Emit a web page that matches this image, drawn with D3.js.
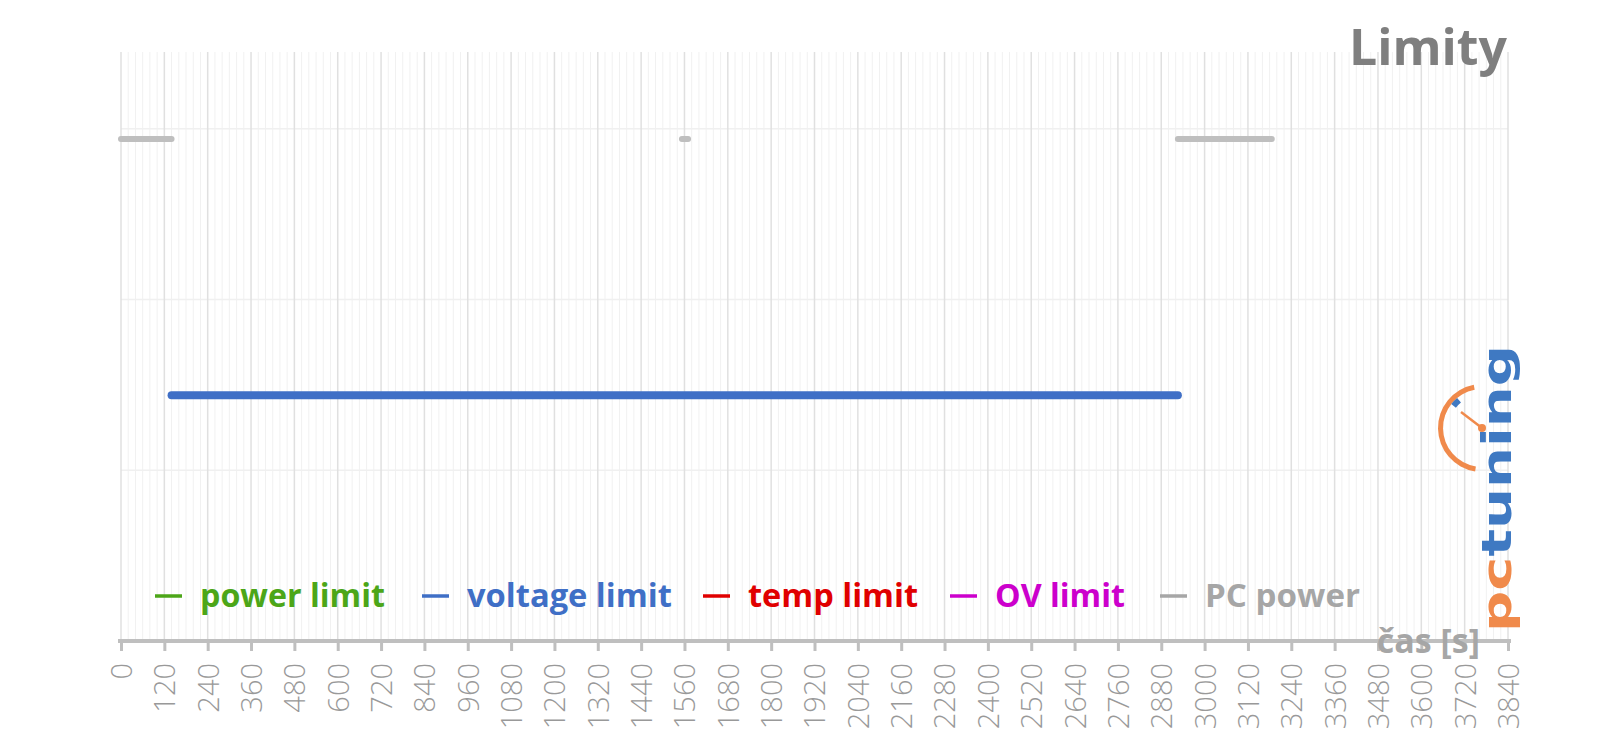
<!DOCTYPE html>
<html>
<head>
<meta charset="utf-8">
<script src="https://cdn.jsdelivr.net/npm/d3@7/dist/d3.min.js"></script>
<style>
html,body{margin:0;padding:0;background:#fff;}
svg{display:block;}
</style>
</head>
<body>
<svg id="chart" width="1600" height="738"></svg>
<script>
// ---- data ----
const title = "Limity";
const xAxisTitle = "čas [s]";
const xTicks = [0,120,240,360,480,600,720,840,960,1080,1200,1320,1440,1560,1680,1800,1920,2040,2160,2280,2400,2520,2640,2760,2880,3000,3120,3240,3360,3480,3600,3720,3840];
const seriesNames = ["power limit","voltage limit","temp limit","OV limit","PC power"];
const seriesColors = ["#4ca618","#3f6fc6","#e00000","#cc00cc","#a6a6a6"];
// [time s, level]; null = gap
const powerLimit = [];
const voltageLimit = [[140,1.44],[2926,1.44]];
const tempLimit = [];
const ovLimit = [];
const pcPower = [[0,2.94],[140,2.94],null,[1553,2.94],[1570,2.94],null,[2926,2.94],[3186,2.94]];
const yGrid = [1,2,3];

// ---- layout ----
const svg = d3.select("#chart");
const x = d3.scaleLinear().domain([0,3840]).range([121,1508]);
const y = d3.scaleLinear().domain([0,3.45]).range([641,52]);

// minor vertical grid every 20 s
const minor = d3.range(0,3841,20).filter(t => t % 120 !== 0);
svg.append("g").selectAll("line").data(minor).join("line")
  .attr("x1", d=>x(d)).attr("x2", d=>x(d))
  .attr("y1", y(3.45)).attr("y2", y(0))
  .attr("stroke","#f1f1f1").attr("stroke-width",1);
svg.append("g").selectAll("line").data(yGrid).join("line")
  .attr("x1", x(0)).attr("x2", x(3840))
  .attr("y1", d=>y(d)).attr("y2", d=>y(d))
  .attr("stroke","#f0f0f0").attr("stroke-width",1.5);
svg.append("g").selectAll("line").data(xTicks).join("line")
  .attr("x1", d=>x(d)).attr("x2", d=>x(d))
  .attr("y1", y(3.45)).attr("y2", y(0))
  .attr("stroke","#e0e0e0").attr("stroke-width",1.5);

// ---- axis ----
const axis = d3.axisBottom(x).tickValues(xTicks).tickSize(10).tickSizeOuter(0).tickFormat(d3.format("d"));
const ag = svg.append("g").attr("transform",`translate(0,${y(0)})`).call(axis);
ag.select(".domain").attr("stroke","#bfbfbf").attr("stroke-width",4).attr("d",`M${x(0)-3},0H${x(3840)+3}`);
ag.selectAll(".tick line").attr("stroke","#bfbfbf").attr("stroke-width",3);
ag.selectAll(".tick text")
  .attr("transform","rotate(-90)")
  .attr("x",-22).attr("y",0).attr("dy","0.36em")
  .attr("text-anchor","end")
  .attr("fill","#999999")
  .style("font-family","'Open Sans', sans-serif")
  .style("font-weight","300")
  .style("font-size","29px");

svg.append("text").attr("x",1480).attr("y",653)
  .attr("text-anchor","end")
  .attr("fill","#a6a6a6")
  .style("font-family","'Open Sans', sans-serif")
  .style("font-weight","700").style("font-size","34px")
  .text(xAxisTitle);

// ---- series ----
const line = d3.line().defined(d=>d!==null).x(d=>x(d[0])).y(d=>y(d[1]));
const seriesData = [powerLimit, voltageLimit, tempLimit, ovLimit, pcPower];
const widths = [8,8,8,8,6];
seriesData.forEach((s,i)=>{
  if(!s.length) return;
  svg.append("path").datum(s).attr("d",line)
    .attr("fill","none").attr("stroke", i===4 ? "#bfbfbf" : seriesColors[i])
    .attr("stroke-width",widths[i]).attr("stroke-linecap","round");
});

// ---- legend ----
const legX = [155,422,703,950,1160];
const legW = [185,205,170,130,155];
const lg = svg.append("g");
seriesNames.forEach((n,i)=>{
  lg.append("line").attr("x1",legX[i]).attr("x2",legX[i]+27)
    .attr("y1",596).attr("y2",596).attr("stroke",seriesColors[i]).attr("stroke-width",3.5);
  lg.append("text").attr("x",legX[i]+45).attr("y",607)
    .attr("fill",seriesColors[i])
    .style("font-family","'Open Sans', sans-serif")
    .style("font-weight","700").style("font-size","32px")
    .attr("textLength",legW[i]).attr("lengthAdjust","spacingAndGlyphs")
    .text(n);
});

// ---- title ----
svg.append("text").attr("x",1507).attr("y",65).attr("text-anchor","end")
  .attr("fill","#7f7f7f")
  .style("font-family","'Open Sans', sans-serif")
  .style("font-weight","700").style("font-size","50px")
  .text(title);

// ---- logo ----
const logo = svg.append("g");
logo.append("path")
  .attr("d", d3.arc().innerRadius(39).outerRadius(44).startAngle(-Math.PI*0.06).endAngle(-Math.PI*0.95)())
  .attr("transform","translate(1482,428)")
  .attr("fill","#f08a4b");
logo.append("path")
  .attr("d", d3.arc().innerRadius(33).outerRadius(39).startAngle(-Math.PI*0.22).endAngle(-Math.PI*0.29)())
  .attr("transform","translate(1482,428)")
  .attr("fill","#3f79c2");
logo.append("line").attr("x1",1461).attr("y1",412).attr("x2",1482).attr("y2",428)
  .attr("stroke","#f08a4b").attr("stroke-width",2.5);
logo.append("circle").attr("cx",1482).attr("cy",428).attr("r",4).attr("fill","#f08a4b");
const lt = logo.append("text")
  .attr("transform","translate(1511,632) rotate(-90)")
  .style("font-family","'DejaVu Sans', sans-serif")
  .style("font-weight","700").style("font-size","40px")
  .attr("textLength",287).attr("lengthAdjust","spacingAndGlyphs");
lt.append("tspan").attr("fill","#f08a4b").text("pc");
lt.append("tspan").attr("fill","#3f79c2").text("tuning");
</script>
</body>
</html>
